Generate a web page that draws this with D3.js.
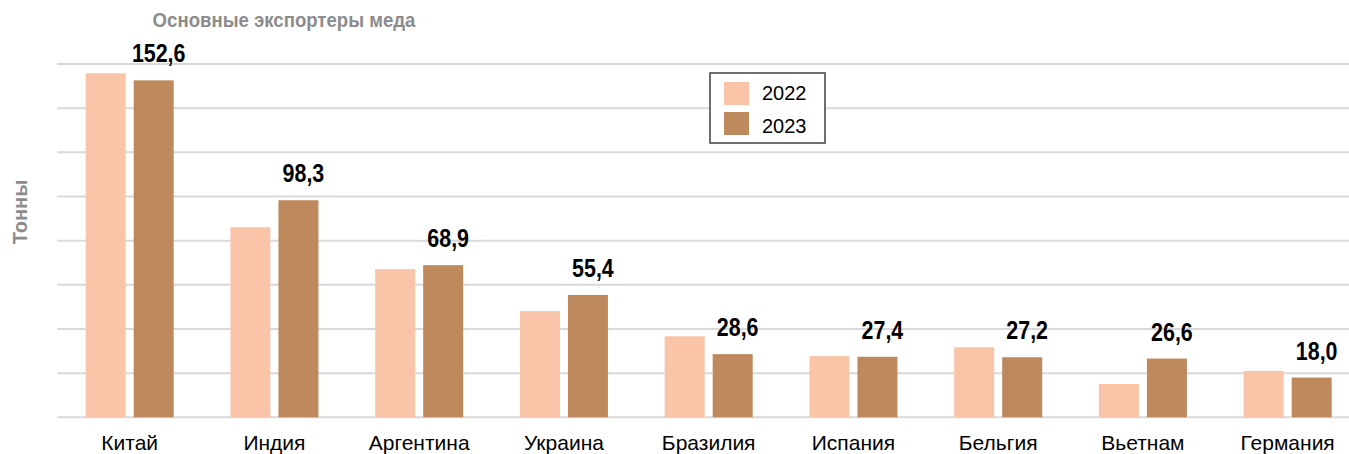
<!DOCTYPE html>
<html>
<head>
<meta charset="utf-8">
<script src="https://cdn.jsdelivr.net/npm/d3@7/dist/d3.min.js"></script>
<style>
html,body{margin:0;padding:0;background:#fff;}
svg{display:block;}
</style>
</head>
<body>
<svg id="chart" width="1349" height="454"></svg>
<script>
const categories = ["Китай","Индия","Аргентина","Украина","Бразилия","Испания","Бельгия","Вьетнам","Германия"];
const seriesNames = ["2022","2023"];
const values2022 = [155.8, 86.1, 67.1, 48.1, 36.7, 27.7, 31.7, 15.1, 21.0];
const values2023 = [152.6, 98.3, 68.9, 55.4, 28.6, 27.4, 27.2, 26.6, 18.0];
const valueLabels = ["152,6","98,3","68,9","55,4","28,6","27,4","27,2","26,6","18,0"];
const gridTicks = [0,20,40,60,80,100,120,140,160];
const colors = ["#F9C4A8","#BE895D"];

const svg = d3.select("#chart");
const plotLeft = 57.3, step = 144.75, plotBottom = 417.3, plotTop = 64;

const x = d3.scaleBand().domain(categories).range([plotLeft, plotLeft + step*categories.length]).padding(0);
const y = d3.scaleLinear().domain([0,160]).range([plotBottom, plotTop]);
const x1 = d3.scaleBand().domain(seriesNames)
  .range([x.bandwidth()/2 - 44, x.bandwidth()/2 + 44]).paddingInner(1/6).paddingOuter(0);

// gridlines
svg.append("g").selectAll("line").data(gridTicks).join("line")
  .attr("x1", plotLeft).attr("x2", 1349)
  .attr("y1", d => y(d)).attr("y2", d => y(d))
  .attr("stroke", "#d9d9d9").attr("stroke-width", 2);

const data = categories.map((c,i) => ({cat:c, vals:[values2022[i], values2023[i]], label:valueLabels[i]}));

const groups = svg.append("g").selectAll("g").data(data).join("g")
  .attr("transform", d => `translate(${x(d.cat)},0)`);

groups.selectAll("rect").data(d => d.vals.map((v,j)=>({s:seriesNames[j], v, j}))).join("rect")
  .attr("x", d => x1(d.s)).attr("width", x1.bandwidth())
  .attr("y", d => y(d.v)).attr("height", d => plotBottom - y(d.v))
  .attr("fill", d => colors[d.j]);

groups.append("text")
  .attr("transform", d => `translate(${x1("2023") + x1.bandwidth()/2 + 5},${y(d.vals[1]) - 18}) scale(0.84,1)`)
  .attr("text-anchor","middle")
  .attr("font-family","'Liberation Sans',Arial,sans-serif")
  .attr("font-weight","bold").attr("font-size", 25.5).attr("fill","#000")
  .text(d => d.label);

// x axis labels
const xAxis = d3.axisBottom(x).tickSize(0).tickPadding(0);
const gx = svg.append("g").attr("transform", `translate(0,${plotBottom})`).call(xAxis);
gx.select(".domain").remove();
gx.selectAll("text")
  .attr("y", 32.5).attr("dy", 0)
  .attr("font-family","'Liberation Sans',Arial,sans-serif")
  .attr("font-size", 21).attr("fill","#000");

// title
svg.append("text").attr("transform","translate(284,27) scale(0.93,1)").attr("text-anchor","middle")
  .attr("font-family","'Liberation Sans',Arial,sans-serif")
  .attr("font-weight","bold").attr("font-size", 20).attr("fill","#8c8c8c")
  .text("Основные экспортеры меда");

// y title
svg.append("text").attr("transform","translate(27,212) rotate(-90)")
  .attr("text-anchor","middle")
  .attr("font-family","'Liberation Sans',Arial,sans-serif")
  .attr("font-weight","bold").attr("font-size", 20).attr("fill","#8c8c8c")
  .text("Тонны");

// legend
const lg = svg.append("g");
lg.append("rect").attr("x",710).attr("y",73).attr("width",115).attr("height",70)
  .attr("fill","#fff").attr("stroke","#404040").attr("stroke-width",1.5);
seriesNames.forEach((s,i) => {
  lg.append("rect").attr("x",724).attr("y",82 + i*30).attr("width",25).attr("height",23).attr("fill",colors[i]);
  lg.append("text").attr("x",762).attr("y",100 + i*33)
    .attr("font-family","'Liberation Sans',Arial,sans-serif").attr("font-size",20).attr("fill","#000")
    .text(s);
});
</script>
</body>
</html>
